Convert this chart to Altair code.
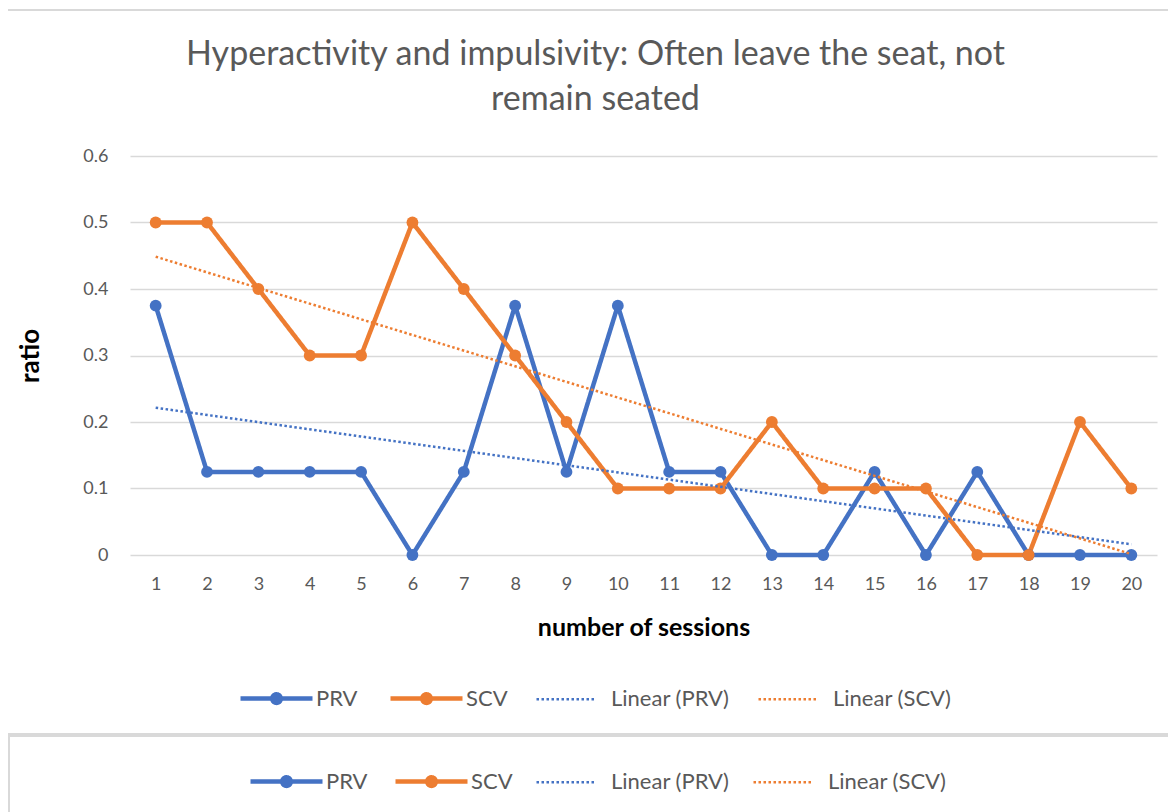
import altair as alt
import pandas as pd
import numpy as np

sessions = list(range(1, 21))
prv = [0.375, 0.125, 0.125, 0.125, 0.125, 0, 0.125, 0.375, 0.125, 0.375,
       0.125, 0.125, 0, 0, 0.125, 0, 0.125, 0, 0, 0]
scv = [0.5, 0.5, 0.4, 0.3, 0.3, 0.5, 0.4, 0.3, 0.2, 0.1,
       0.1, 0.1, 0.2, 0.1, 0.1, 0.1, 0, 0, 0.2, 0.1]
series_names = ["PRV", "SCV"]
legend_names = ["PRV", "SCV", "Linear (PRV)", "Linear (SCV)"]
y_ticks = [0, 0.1, 0.2, 0.3, 0.4, 0.5, 0.6]
title_lines = ["Hyperactivity and impulsivity: Often leave the seat, not", "remain seated"]

BLUE = "#4472C4"
ORANGE = "#ED7D31"
GRAY = "#595959"
GRID = "#D9D9D9"
FONT = "Lato"

df = pd.DataFrame({
    "session": sessions * 2,
    "value": prv + scv,
    "series": [series_names[0]] * len(prv) + [series_names[1]] * len(scv),
})

W, H = 1027, 399
PAD_L, PAD_T = 122, 148


def ring(r, n=20):
    a = np.linspace(0, 2 * np.pi, n + 1)[:-1]
    return "M" + "L".join(f"{r*np.cos(t):.4f},{r*np.sin(t):.4f}" for t in a) + "Z"


# legend symbols (unit box -1..1): line with a dot; shorter dotted line
LINE_DOT = "M-1,0L1,0" + ring(0.055) + ring(0.12)
LINE = "M-1,0L0.6,0"

color_scale = alt.Scale(domain=legend_names, range=[BLUE, ORANGE, BLUE, ORANGE])
dash_scale = alt.Scale(domain=legend_names, type="ordinal",
                       range=[[1, 0], [1, 0], [2.5, 2.5], [2.5, 2.5]])
width_scale = alt.Scale(domain=legend_names, type="ordinal", range=[4.5, 4.5, 2.5, 2.5])
shape_scale = alt.Scale(domain=legend_names, range=[LINE_DOT, LINE_DOT, LINE, LINE])


def make_legend(x, y, pad):
    return alt.Legend(
        orient="none", legendX=x, legendY=y, direction="horizontal", title=None,
        symbolSize=5184, labelOffset=1, columnPadding=pad, symbolOpacity=1,
        labelFont=FONT, labelFontSize=22, labelColor=GRAY,
    )


def legend_channels(field, lg):
    return dict(
        stroke=alt.Stroke(f"{field}:N", scale=color_scale, legend=lg),
        strokeDash=alt.StrokeDash(f"{field}:N", scale=dash_scale, legend=lg),
        strokeWidth=alt.StrokeWidth(f"{field}:N", scale=width_scale, legend=lg),
    )


x_enc = alt.X("session:Q", scale=alt.Scale(domain=[0.5, 20.5], nice=False, zero=False),
              axis=alt.Axis(values=sessions, title="number of sessions", grid=False,
                            domain=False, ticks=False, labelPadding=20, titleFontSize=25,
                            titleY=72, titleBaseline="middle"))
y_enc = alt.Y("value:Q", scale=alt.Scale(domain=[0, 0.6], nice=False),
              axis=alt.Axis(values=y_ticks, format="~g", title="ratio", grid=True,
                            domain=False, ticks=False, labelPadding=22, titleFontSize=26,
                            titleX=-100, titleY=H / 2, titleAngle=270,
                            titleBaseline="middle", titleAlign="center"))

base = alt.Chart(df)
leg1 = make_legend(108, 504, 23)
leg2 = make_legend(118, 587, 18)

lines = base.mark_line(strokeJoin="round").encode(
    x=x_enc, y=y_enc, **legend_channels("series", leg1))

points = base.mark_point(filled=True, size=140, opacity=1).encode(
    x="session:Q", y="value:Q",
    fill=alt.Fill("series:N", scale=color_scale, legend=None),
)

trends = base.transform_regression(
    "session", "value", groupby=["series"]
).transform_calculate(
    trend="'Linear (' + datum.series + ')'"
).mark_line().encode(
    x="session:Q", y="value:Q", **legend_channels("trend", leg1))

dummy1 = base.transform_filter("false").mark_point(opacity=1).encode(
    x="session:Q", y="value:Q",
    shape=alt.Shape("series:N", scale=shape_scale, legend=leg1),
    **legend_channels("series", leg1))

box_df = pd.DataFrame({"k": [0]})
box1 = alt.Chart(box_df).mark_rect(fill="transparent", stroke=GRID, strokeWidth=2).encode(
    x=alt.value(-125), x2=alt.value(1060), y=alt.value(-146), y2=alt.value(578))
box2 = alt.Chart(box_df).mark_rect(fill="transparent", stroke=GRID, strokeWidth=2).encode(
    x=alt.value(-121), x2=alt.value(1042), y=alt.value(580), y2=alt.value(700))

main = alt.layer(box1, box2, lines, points, trends, dummy1)

dummy2 = base.transform_filter("false").mark_point(opacity=1).encode(
    x="session:Q", y="value:Q",
    shape=alt.Shape("series:N", scale=shape_scale, legend=leg2),
    **legend_channels("series", leg2))

chart = alt.layer(main, dummy2).resolve_scale(
    stroke="independent", strokeDash="independent",
    strokeWidth="independent", shape="independent",
).properties(
    width=W, height=H, background="white",
    title=alt.TitleParams(title_lines, fontSize=34, font=FONT, color=GRAY,
                          fontWeight="normal", anchor="middle", dx=-48, dy=148,
                          offset=40, lineHeight=45, frame="group"),
    autosize=alt.AutoSizeParams(type="none"),
    padding={"left": PAD_L, "top": PAD_T, "right": 11, "bottom": 257},
).configure_view(stroke=None).configure_axis(
    labelFont=FONT, labelFontSize=18, labelColor=GRAY,
    titleFont=FONT, titleFontWeight="bold", titleColor="#000000",
    gridColor=GRID, gridWidth=1.3,
)

chart.save("out.html", embed_options={"renderer": "svg", "actions": False})
